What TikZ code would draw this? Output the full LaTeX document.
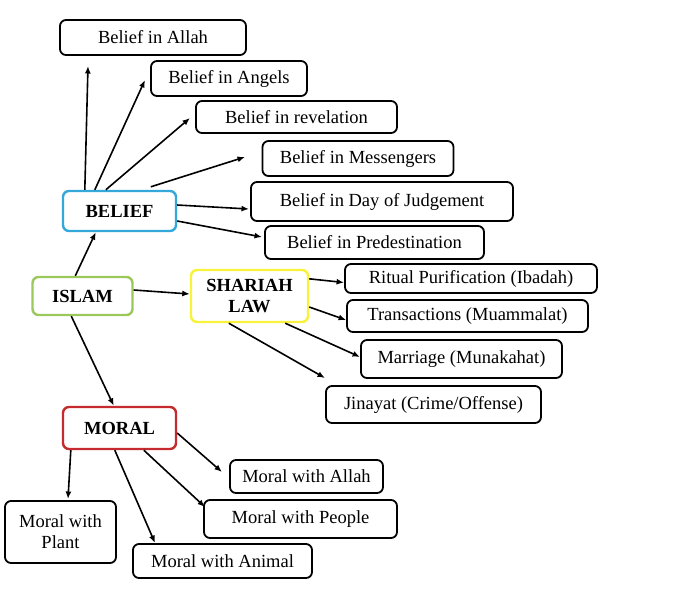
\documentclass[tikz,border=0pt]{standalone}
\usepackage{fontspec}
\setmainfont{Liberation Serif}
\definecolor{beliefblue}{HTML}{35A8DA}
\definecolor{islamgreen}{HTML}{9BC85A}
\definecolor{shariahyellow}{HTML}{F8F23A}
\definecolor{moralred}{HTML}{C42A2E}
\usetikzlibrary{calc, positioning, arrows.meta}

\begin{document}
\begin{tikzpicture}[
  x=1pt, y=-1pt,
  leaf/.style={draw=black, fill=white, rounded corners=6pt, line width=1.8pt,
               align=center, inner sep=2pt,
               font=\fontsize{18.5}{21}\selectfont},
  hub/.style={leaf, line width=2.4pt, font=\fontsize{18.5}{21}\selectfont\bfseries},
  link/.style={line width=1.6pt, -{Latex[length=7.5pt,width=6pt]}},
]
\useasboundingbox (0,0) rectangle (684,595);

\node[hub, draw=islamgreen, minimum width=100pt, minimum height=38pt] (islam) at (82.5,296) {ISLAM};
\node[hub, draw=beliefblue, minimum width=113pt, minimum height=40pt] (belief) at (119.5,211) {BELIEF};
\node[hub, draw=shariahyellow, minimum width=117pt, minimum height=52pt] (shariah) at (249.5,296) {SHARIAH\\LAW};
\node[hub, draw=moralred, minimum width=113pt, minimum height=42pt] (moral) at (119.5,428) {MORAL};

\node[leaf, minimum width=186pt, minimum height=35pt] (allah) at (153,37.5) {Belief in Allah};
\node[leaf, minimum width=156pt, minimum height=35pt] (angels) at (229,78.5) {Belief in Angels};
\node[leaf, minimum width=201pt, minimum height=32pt] (revelation) at (296.5,117) {Belief in revelation};
\node[leaf, minimum width=191pt, minimum height=35pt] (messengers) at (358,158.5) {Belief in Messengers};
\node[leaf, minimum width=262pt, minimum height=39pt] (judgement) at (382,201.5) {Belief in Day of Judgement};
\node[leaf, minimum width=219pt, minimum height=33pt] (predestination) at (374.5,242.5) {Belief in Predestination};

\node[leaf, minimum width=252pt, minimum height=29pt] (ibadah) at (471,278.5) {Ritual Purification (Ibadah)};
\node[leaf, minimum width=241pt, minimum height=32pt] (muammalat) at (467.5,316) {Transactions (Muammalat)};
\node[leaf, minimum width=201pt, minimum height=38pt] (munakahat) at (461.5,359) {Marriage (Munakahat)};
\node[leaf, minimum width=215pt, minimum height=37pt] (jinayat) at (433.5,404.5) {Jinayat (Crime/Offense)};

\node[leaf, minimum width=153pt, minimum height=33pt] (mallah) at (306.5,476.5) {Moral with Allah};
\node[leaf, minimum width=193pt, minimum height=38pt] (mpeople) at (300.5,519) {Moral with People};
\node[leaf, minimum width=111pt, minimum height=62pt] (mplant) at (60.5,532) {Moral with\\Plant};
\node[leaf, minimum width=179pt, minimum height=34pt] (manimal) at (222.5,561) {Moral with Animal};

\coordinate (tAllah) at (88,66);
\coordinate (tAngels) at (145,80);
\coordinate (tRevelation) at (190,118);
\coordinate (tMessengers) at (245,157);
\coordinate (tJudgement) at (249,209);
\coordinate (tPredestination) at (262,237);
\coordinate (tJinayat) at (325,378);
\coordinate (tMallah) at (222,472);
\coordinate (tMpeople) at (205,507);
\coordinate (tManimal) at (155,543);
\coordinate (tMplant) at (68,499);

\draw[link] ([xshift=44pt]islam.north west) -- ([xshift=34pt]belief.south west);
\draw[link] ([yshift=6pt]islam.east) -- ([yshift=2pt]shariah.west);
\draw[link] ([xshift=40pt]islam.south west) -- ([xshift=52pt]moral.north west);

\draw[link] ([xshift=23pt]belief.north west) -- (tAllah);
\draw[link] ([xshift=33pt]belief.north west) -- (tAngels);
\draw[link] ([xshift=44pt]belief.north west) -- (tRevelation);
\draw[link] ([xshift=89pt,yshift=3pt]belief.north west) -- (tMessengers);
\draw[link] ([yshift=6pt]belief.east) -- (tJudgement);
\draw[link] ([yshift=-10pt]belief.east) -- (tPredestination);

\draw[link] ([yshift=-10pt]shariah.north east) -- ([yshift=-4pt]ibadah.west);
\draw[link] ([yshift=-11pt]shariah.east) -- ([yshift=-4pt]muammalat.west);
\draw[link] ([xshift=-24pt]shariah.south east) -- ([yshift=2pt]munakahat.west);
\draw[link] ([xshift=39pt]shariah.south west) -- (tJinayat);

\draw[link] ([yshift=-5pt]moral.east) -- (tMallah);
\draw[link] ([xshift=82pt]moral.south west) -- (tMpeople);
\draw[link] ([xshift=53pt]moral.south west) -- (tManimal);
\draw[link] ([xshift=9pt]moral.south west) -- (tMplant);
\end{tikzpicture}
\end{document}
